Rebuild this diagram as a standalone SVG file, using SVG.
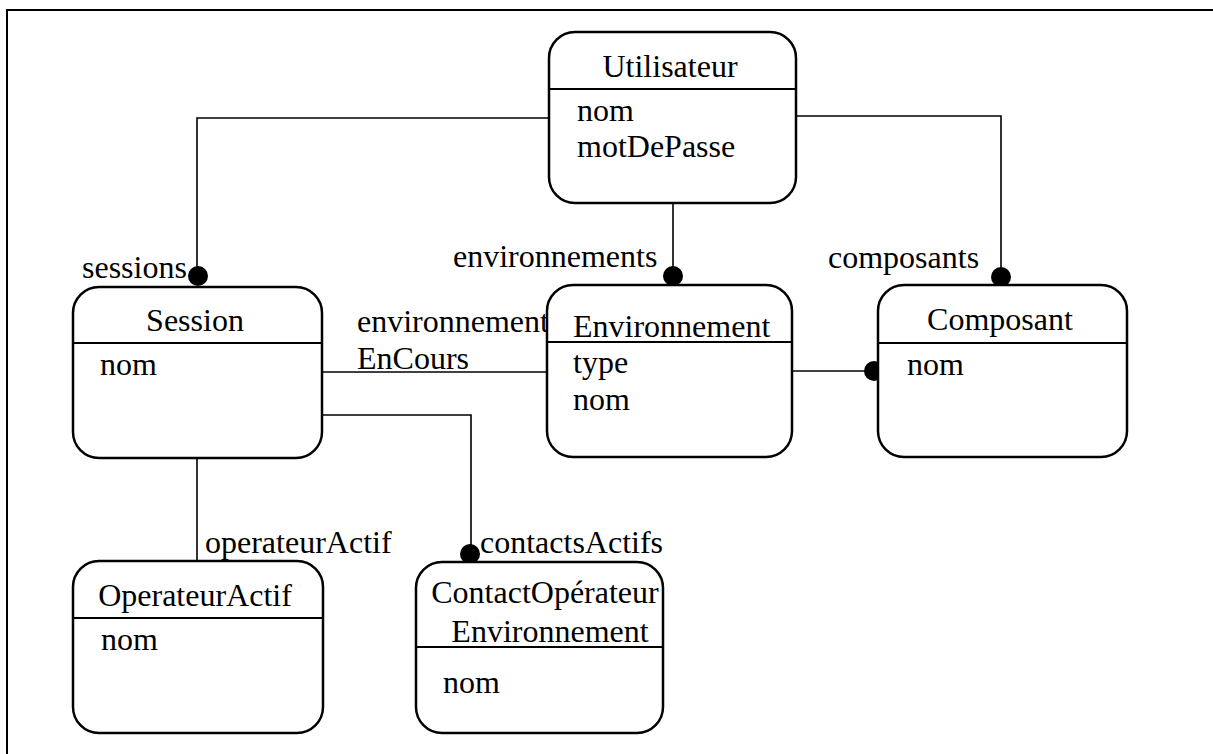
<svg xmlns="http://www.w3.org/2000/svg" width="1213" height="754" viewBox="0 0 1213 754">
<style>
  .box { fill: #fff; stroke: #000; stroke-width: 2.5; }
  .sep { stroke: #000; stroke-width: 2; }
  .t { font-family: "Liberation Serif", "Times New Roman", serif; font-size: 32px; fill: #000; }
  .c { text-anchor: middle; }
  .conn { fill: none; stroke: #000; stroke-width: 1.6; }
  .dot { fill: #000; }
  .frame { stroke: #000; stroke-width: 2; fill: none; }
</style>
<rect width="1213" height="754" fill="#fff"/>
<path class="frame" d="M7,754 L7,10 L1213,10"/>

<g id="connectors">
  <path class="conn" d="M549,118 L197,118 L197,276"/>
  <path class="conn" d="M673,203 L673,276"/>
  <path class="conn" d="M796,116 L1001,116 L1001,277"/>
  <path class="conn" d="M322,372 L547,372"/>
  <path class="conn" d="M792,371 L874,371"/>
  <path class="conn" d="M322,415 L471,415 L471,554"/>
  <path class="conn" d="M197,458 L197,561"/>
  <circle class="dot" cx="198" cy="276" r="10"/>
  <circle class="dot" cx="673" cy="276" r="10"/>
  <circle class="dot" cx="1001" cy="277" r="10"/>
  <circle class="dot" cx="874" cy="371" r="10"/>
  <circle class="dot" cx="470" cy="554" r="10"/>
  <text class="t" x="82" y="278">sessions</text>
  <text class="t" x="453" y="267">environnements</text>
  <text class="t" x="828" y="268">composants</text>
  <text class="t" x="357" y="332">environnement</text>
  <text class="t" x="357" y="369">EnCours</text>
  <text class="t" x="205" y="553">operateurActif</text>
  <text class="t" x="480" y="553">contactsActifs</text>
</g>

<g id="utilisateur">
  <rect class="box" x="549" y="32" width="247" height="171" rx="26" ry="26"/>
  <line class="sep" x1="549" y1="89" x2="796" y2="89"/>
  <text class="t c" x="670" y="77">Utilisateur</text>
  <text class="t" x="577" y="121">nom</text>
  <text class="t" x="577" y="157">motDePasse</text>
</g>

<g id="session">
  <rect class="box" x="73" y="287" width="249" height="171" rx="26" ry="26"/>
  <line class="sep" x1="73" y1="343" x2="322" y2="343"/>
  <text class="t c" x="195" y="331">Session</text>
  <text class="t" x="100" y="375">nom</text>
</g>

<g id="environnement">
  <rect class="box" x="547" y="285" width="245" height="172" rx="26" ry="26"/>
  <line class="sep" x1="547" y1="342" x2="792" y2="342"/>
  <text class="t" x="573" y="337">Environnement</text>
  <text class="t" x="573" y="373">type</text>
  <text class="t" x="573" y="410">nom</text>
</g>

<g id="composant">
  <rect class="box" x="878" y="285" width="249" height="172" rx="26" ry="26"/>
  <line class="sep" x1="878" y1="343" x2="1127" y2="343"/>
  <text class="t c" x="1000" y="330">Composant</text>
  <text class="t" x="907" y="375">nom</text>
</g>

<g id="operateurActif">
  <rect class="box" x="73" y="561" width="250" height="172" rx="26" ry="26"/>
  <line class="sep" x1="73" y1="618" x2="323" y2="618"/>
  <text class="t c" x="195" y="606">OperateurActif</text>
  <text class="t" x="101" y="650">nom</text>
</g>

<g id="contactOperateurEnvironnement">
  <rect class="box" x="416" y="562" width="247" height="171" rx="26" ry="26"/>
  <line class="sep" x1="416" y1="647" x2="663" y2="647"/>
  <text class="t c" x="545" y="603">ContactOpérateur</text>
  <text class="t c" x="550" y="642">Environnement</text>
  <text class="t" x="443" y="693">nom</text>
</g>
</svg>
